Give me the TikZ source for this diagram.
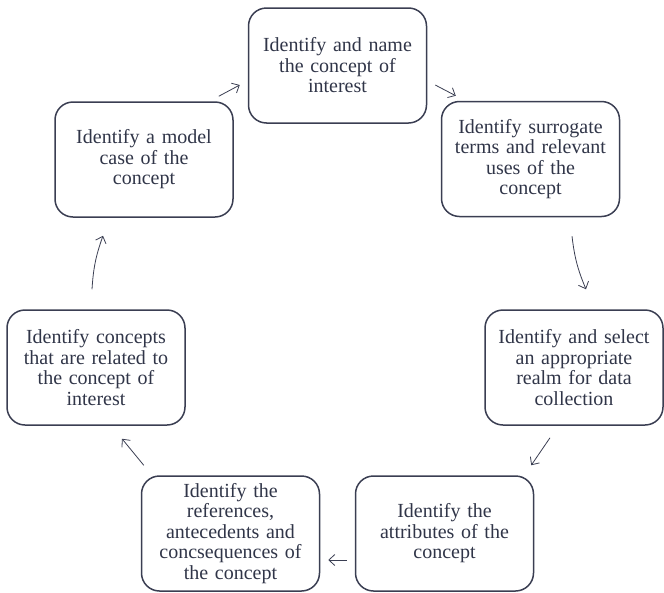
\documentclass[tikz,border=0pt]{standalone}
\usepackage{fontspec}
\setmainfont{Liberation Serif}
\usepackage{tikz}
\usetikzlibrary{positioning,arrows.meta}
\usepackage{xcolor}
\definecolor{SlateLine}{RGB}{58,62,82}
\definecolor{SlateText}{RGB}{48,53,72}

\begin{document}
\begin{tikzpicture}[
    x=1pt, y=1pt,
    box/.style={rectangle, draw=SlateLine, line width=1.5pt, rounded corners=18pt,
                minimum width=178pt, minimum height=115pt,
                text width=165pt, align=center, text=SlateText,
                font=\fontsize{20}{20.5}\selectfont, inner sep=0pt},
    arrow/.style={-{Straight Barb[length=6pt,width=11pt]}, draw=SlateLine, line width=0.8pt}
]
    \useasboundingbox (0,0) rectangle (664,-592);

    \node[box] (identify)    at (337.5,-65.5) {Identify and name\\the concept of\\interest};
    \node[box] (surrogate)   at (530.5,-159)  {Identify surrogate\\terms and relevant\\uses of the\\concept};
    \node[box] (realm)       at (574,-367.5)  {Identify and select\\an appropriate\\realm for data\\collection};
    \node[box] (attributes)  at (444.5,-533.5) {Identify the\\attributes of the\\concept};
    \node[box] (antecedents) at (230.5,-533.5) {Identify the\\references,\\antecedents and\\concsequences of\\the concept};
    \node[box] (related)     at (96,-367.5)   {Identify concepts\\that are related to\\the concept of\\interest};
    \node[box] (model)       at (144,-159.5)  {Identify a model\\case of the\\concept};

    \draw[arrow] ([shift={(-15,5)}]model.north east) -- ([shift={(-8,-19.5)}]identify.west);
    \draw[arrow] ([shift={(8,-19.5)}]identify.east) -- ([shift={(15,5)}]surrogate.north west);
    \draw[arrow] ([shift={(41.5,-19)}]surrogate.south) to[bend right=8] ([shift={(12,20)}]realm.north);
    \draw[arrow] ([shift={(-24,-12)}]realm.south) -- ([shift={(-3,10)}]attributes.north east);
    \draw[arrow] ([shift={(-8,-26.5)}]attributes.west) -- ([shift={(8,-26.5)}]antecedents.east);
    \draw[arrow] ([shift={(3,10)}]antecedents.north west) -- ([shift={(26,-13)}]related.south);
    \draw[arrow] ([shift={(-4,20)}]related.north) to[bend left=8] ([shift={(-41,-18)}]model.south);
\end{tikzpicture}
\end{document}
